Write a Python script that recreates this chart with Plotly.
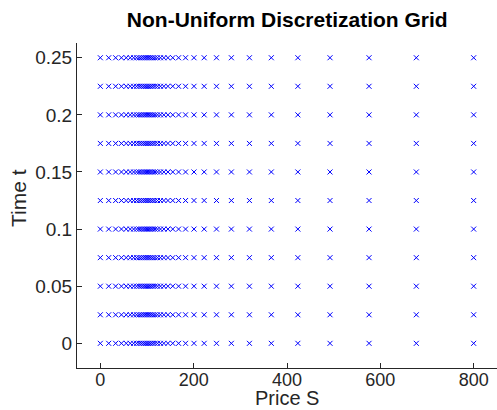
import plotly.graph_objects as go

# Price grid points (non-uniform, clustered near strike ~100)
price_S = [0.0, 17.9, 32.8, 45.2, 55.5, 64.1, 71.4, 77.7, 83.1, 87.8, 92.2, 96.2,
           100.1, 104.0, 108.0, 112.3, 117.1, 122.5, 128.8, 136.2, 144.9, 155.2,
           167.7, 182.6, 200.7, 222.5, 248.9, 280.8, 319.5, 366.4, 423.3, 492.2,
           575.8, 677.1, 800.0]
# Time grid points
time_t = [0.0, 0.025, 0.05, 0.075, 0.1, 0.125, 0.15, 0.175, 0.2, 0.225, 0.25]

x_ticks = [0, 200, 400, 600, 800]
y_ticks = [0, 0.05, 0.1, 0.15, 0.2, 0.25]
y_ticklabels = ["0", "0.05", "0.1", "0.15", "0.2", "0.25"]

xs, ys = [], []
for t in time_t:
    for s in price_S:
        xs.append(s)
        ys.append(t)

fig = go.Figure()
fig.add_trace(go.Scatter(
    x=xs, y=ys, mode="markers",
    marker=dict(symbol="x-thin", size=5, line=dict(width=1, color="rgb(0,0,255)"),
                color="rgb(0,0,255)"),
    showlegend=False, hoverinfo="skip"))

FONT = "Liberation Sans, Arial, sans-serif"
AX = "#262626"
W, H = 497, 410
L, R, T, B = 77, 0, 43, 42
PH = H - T - B
PW = W - L - R
fig.update_layout(
    width=W, height=H,
    margin=dict(l=L, r=R, t=T, b=B),
    paper_bgcolor="white", plot_bgcolor="white",
    font=dict(family=FONT, size=19, color=AX),
    title=dict(text="<b>Non-Uniform Discretization Grid</b>", x=0.578, xanchor="center",
               y=0.935, yanchor="bottom", font=dict(size=21, color="black")),
    annotations=[
        dict(text="Price S", xref="paper", yref="paper", x=0.5, y=-43 / PH,
             xanchor="center", yanchor="bottom", showarrow=False,
             font=dict(size=20, color=AX)),
        dict(text="Time t", xref="paper", yref="paper", x=-(L - 18.5) / PW,
             y=(H - B - 198.5) / PH, xanchor="center", yanchor="middle",
             textangle=-90, showarrow=False, font=dict(size=21, color=AX)),
    ],
)
fig.update_xaxes(
    range=[-50, 850], tickvals=x_ticks, ticks="inside", ticklen=5, tickcolor=AX,
    showline=True, linecolor=AX, linewidth=1, showgrid=False, zeroline=False,
    ticklabelstandoff=-5, tickfont=dict(size=18, color=AX))
fig.update_yaxes(
    range=[-0.0216, 0.2629], tickvals=y_ticks, ticktext=y_ticklabels, ticks="inside",
    ticklen=5, tickcolor=AX, showline=True, linecolor=AX, linewidth=1, showgrid=False,
    zeroline=False, tickfont=dict(size=19, color=AX))

fig.write_html("out.html")
